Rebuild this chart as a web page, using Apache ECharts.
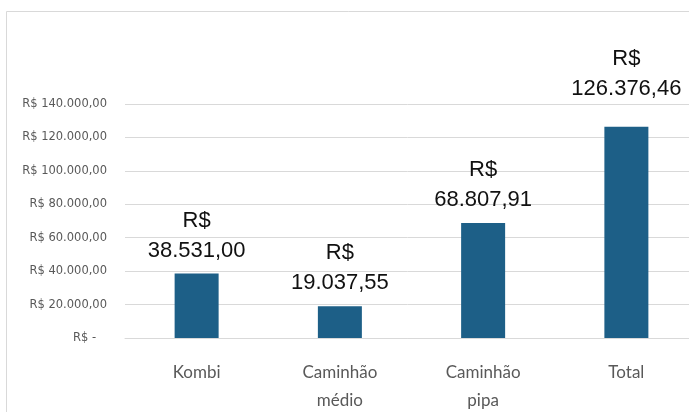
<!DOCTYPE html>
<html>
<head>
<meta charset="utf-8">
<script src="https://cdn.jsdelivr.net/npm/echarts@6/dist/echarts.min.js"></script>
<style>
  html, body { margin: 0; padding: 0; background: #fff; }
  #chart { width: 689px; height: 412px; }
</style>
</head>
<body>
<div id="chart"></div>
<script>
// Custos por tipo de veículo (R$)
const categories = ['Kombi', 'Caminhão\nmédio', 'Caminhão\npipa', 'Total'];
const values = [38531.00, 19037.55, 68807.91, 126376.46];
const axisMax = 140000;
const axisStep = 20000;

const brl = new Intl.NumberFormat('pt-BR', { minimumFractionDigits: 2, maximumFractionDigits: 2 });

// Formato contábil: zero aparece como traço, alinhado antes das casas decimais
function axisLabel(v) {
  return v === 0 ? 'R$ -   ' : 'R$ ' + brl.format(v);
}

const chart = echarts.init(document.getElementById('chart'), null, { renderer: 'canvas' });

chart.setOption({
  backgroundColor: '#ffffff',
  animation: false,
  graphic: [{
    type: 'rect',
    shape: { x: 6.5, y: 11.5, width: 700, height: 420 },
    style: { fill: 'none', stroke: '#d9d9d9', lineWidth: 1 },
    silent: true,
    z: -1
  }],
  grid: {
    left: 125, top: 104, width: 573, bottom: 74,
    containLabel: false,
    outerBoundsMode: 'none'
  },
  xAxis: {
    type: 'category',
    data: categories,
    axisLine: { show: true, lineStyle: { color: '#d9d9d9', width: 1 } },
    axisTick: { show: false },
    axisLabel: {
      color: '#595959',
      fontFamily: 'Lato',
      fontSize: 17,
      lineHeight: 28,
      margin: 21,
      interval: 0
    }
  },
  yAxis: {
    type: 'value',
    min: 0,
    max: axisMax,
    interval: axisStep,
    axisLine: { show: false },
    axisTick: { show: false },
    splitLine: { lineStyle: { color: '#d9d9d9', width: 1 } },
    axisLabel: {
      color: '#595959',
      fontFamily: 'DejaVu Sans',
      fontSize: 11.5,
      margin: 18,
      formatter: axisLabel
    }
  },
  series: [{
    type: 'bar',
    data: values.map((v, i) => i === 3
      ? { value: v, label: { distance: 23 } }
      : v),
    barWidth: 44,
    itemStyle: { color: '#1d5f87' },
    label: {
      show: true,
      position: 'top',
      distance: 8,
      color: '#111111',
      fontFamily: 'Liberation Sans',
      fontSize: 22,
      lineHeight: 30,
      align: 'center',
      formatter: p => 'R$\n' + brl.format(p.value)
    }
  }]
});
</script>
</body>
</html>
